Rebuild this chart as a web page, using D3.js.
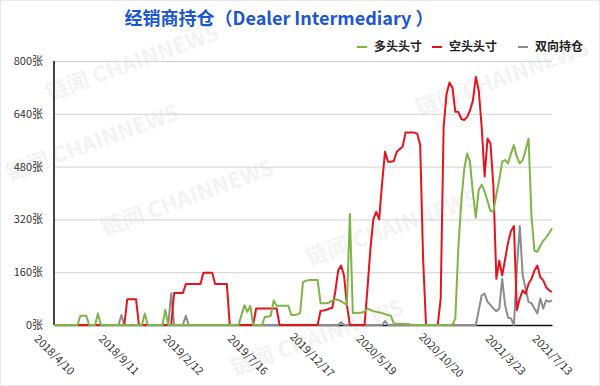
<!DOCTYPE html>
<html>
<head>
<meta charset="utf-8">
<script src="https://cdn.jsdelivr.net/npm/d3@7"></script>
<style>
    body { margin: 0; background: #fff; }
    svg { display: block; }
    text { font-family: "Noto Sans CJK SC", "Noto Sans", sans-serif; }
</style>
</head>
<body>
<div id="chart"></div>
<script>
// weekly values, 2018/4/10 .. 2021/7/13 (171 weeks)
var longPos = [
    0, 0, 0, 0, 0, 0, 0, 0, 0, 28, 28, 28, 0, 0, 0, 35, 0, 0, 0, 0,
    0, 0, 0, 0, 0, 0, 0, 0, 0, 0, 0, 35, 0, 0, 0, 0, 0, 0, 46, 0,
    0, 0, 0, 0, 0, 0, 0, 0, 0, 0, 0, 0, 0, 0, 0, 0, 0, 0, 0, 0,
    0, 0, 0, 0, 30, 60, 40, 58, 0, 0, 0, 0, 25, 25, 28, 75, 58, 58, 58, 58,
    58, 30, 30, 32, 36, 130, 134, 136, 136, 136, 136, 66, 66, 66, 68, 74, 78, 76, 72, 66,
    62, 336, 36, 36, 37, 38, 40, 50, 46, 42, 40, 38, 36, 33, 30, 28, 4, 4, 4, 4,
    3, 3, 0, 0, 0, 0, 0, 0, 0, 0, 0, 0, 0, 0, 0, 0, 0, 20, 230, 370,
    470, 520, 495, 400, 325, 410, 425, 405, 375, 345, 345, 395, 440, 495, 500, 490, 520, 545, 510, 490,
    500, 530, 565, 330, 225, 222, 240, 255, 265, 278, 293
];
var shortPos = [
    0, 0, 0, 0, 0, 0, 0, 0, 0, 0, 0, 0, 0, 0, 0, 0, 0, 0, 0, 0,
    0, 0, 0, 0, 0, 78, 78, 78, 78, 0, 0, 0, 0, 0, 0, 0, 0, 0, 0, 0,
    0, 97, 97, 97, 97, 124, 124, 124, 124, 124, 124, 158, 158, 158, 158, 124, 124, 124, 124, 124,
    0, 0, 0, 0, 0, 0, 0, 0, 0, 50, 50, 50, 50, 50, 50, 50, 50, 0, 0, 0,
    0, 0, 0, 0, 0, 0, 0, 0, 0, 0, 0, 43, 44, 46, 50, 52, 100, 165, 180, 150,
    60, 0, 0, 0, 0, 0, 0, 110, 230, 320, 343, 320, 430, 525, 495, 495, 497, 525, 533, 540,
    583, 583, 583, 583, 580, 545, 200, 0, 0, 0, 0, 0, 80, 600, 700, 735, 720, 646, 646, 625,
    621, 630, 650, 680, 752, 710, 600, 450, 565, 550, 420, 140, 195, 150, 200, 250, 285, 300, 45, 80,
    105, 95, 125, 140, 165, 180, 145, 135, 115, 105, 100
];
var spreadPos = [
    0, 0, 0, 0, 0, 0, 0, 0, 0, 0, 0, 0, 0, 0, 0, 0, 0, 0, 0, 0,
    0, 0, 0, 30, 0, 0, 0, 0, 0, 0, 0, 0, 0, 0, 0, 0, 0, 0, 0, 0,
    96, 0, 0, 0, 0, 28, 0, 0, 0, 0, 0, 0, 0, 0, 0, 0, 0, 0, 0, 0,
    0, 0, 0, 0, 0, 0, 0, 0, 0, 0, 0, 0, 0, 0, 0, 0, 0, 0, 0, 0,
    0, 0, 0, 0, 0, 0, 0, 0, 0, 0, 0, 0, 0, 0, 0, 0, 0, 0, 8, 0,
    0, 0, 0, 0, 0, 0, 0, 0, 0, 0, 0, 0, 0, 12, 0, 0, 0, 0, 0, 0,
    0, 0, 0, 0, 0, 0, 0, 0, 0, 0, 0, 0, 0, 0, 0, 0, 0, 0, 0, 0,
    0, 0, 0, 0, 0, 45, 90, 95, 70, 60, 50, 42, 50, 140, 60, 22, 20, 0, 170, 300,
    150, 110, 70, 66, 50, 35, 80, 50, 75, 70, 75
];

var seriesNames = ["多头头寸", "空头头寸", "双向持仓"];
var seriesColors = ["#7db547", "#e3141e", "#8c8c8c"];
var tickLabels = ["2018/4/10", "2018/9/11", "2019/2/12", "2019/7/16", "2019/12/17",
    "2020/5/19", "2020/10/20", "2021/3/23", "2021/7/13"];
var yTicks = [0, 160, 320, 480, 640, 800];

// category labels: one per week
var dates = [];
var start = new Date(2018, 3, 10);
for (var i = 0; i < longPos.length; i++) {
    var d = new Date(start.getFullYear(), start.getMonth(), start.getDate() + 7 * i);
    dates.push(d.getFullYear() + "/" + (d.getMonth() + 1) + "/" + d.getDate());
}

var svg = d3.select("#chart")
    .append("svg")
    .attr("width", 600)
    .attr("height", 386);

svg.append("rect")
    .attr("x", 0.5).attr("y", 0.5)
    .attr("width", 599).attr("height", 385)
    .attr("fill", "#fff")
    .attr("stroke", "#e8e8e8");

//Watermarks (kept inside the frame)
var marks = [[135, 70], [95, 150], [190, 205], [395, 235], [505, 85], [320, 345]];
svg.append("g")
    .selectAll("text")
    .data(marks)
    .enter()
    .append("text")
    .attr("transform", function (d) { return "translate(" + d[0] + "," + d[1] + ") rotate(-20)"; })
    .attr("text-anchor", "middle")
    .style("font-size", "22px")
    .style("font-weight", "bold")
    .style("fill", "#000")
    .style("opacity", 0.045)
    .text("链闻 CHAINNEWS");

var x = d3.scalePoint().domain(dates).range([54, 552]);
var y = d3.scaleLinear().domain([0, 800]).range([325, 61]);

//Gridlines and y labels
var yAxis = svg.append("g")
    .attr("transform", "translate(54,0)")
    .call(d3.axisLeft(y).tickValues(yTicks).tickSize(-498).tickPadding(11)
        .tickFormat(function (d) { return d + "张"; }));
yAxis.select(".domain").remove();
yAxis.selectAll("line").attr("stroke", "#d2d2d2");
yAxis.selectAll("text").style("font-size", "11px").style("fill", "#333");

//x axis baseline and rotated labels
var xAxis = svg.append("g")
    .attr("transform", "translate(0,325)")
    .call(d3.axisBottom(x).tickValues(tickLabels).tickSize(0));
xAxis.select(".domain").attr("stroke", "#111").attr("stroke-width", 1.5);
xAxis.selectAll("text")
    .attr("y", 0)
    .attr("dy", "0.35em")
    .attr("text-anchor", "middle")
    .attr("transform", "translate(0,30) rotate(45)")
    .style("font-size", "11px")
    .style("fill", "#333");

svg.append("line")
    .attr("x1", 54).attr("x2", 54)
    .attr("y1", 61).attr("y2", 325)
    .attr("stroke", "#444")
    .attr("stroke-width", 2);

//Lines, drawn gray -> red -> green
var line = d3.line()
    .x(function (d, i) { return x(dates[i]); })
    .y(function (d) { return y(d); });
var allSeries = [longPos, shortPos, spreadPos];
[2, 1, 0].forEach(function (k) {
    svg.append("path")
        .datum(allSeries[k])
        .attr("d", line)
        .attr("fill", "none")
        .attr("stroke", seriesColors[k])
        .attr("stroke-width", 2)
        .attr("stroke-linejoin", "round");
});

//Title
svg.append("text")
    .attr("x", 279)
    .attr("y", 25)
    .attr("text-anchor", "middle")
    .style("font-size", "18px")
    .style("font-weight", "bold")
    .style("fill", "#1a55d2")
    .text("经销商持仓（Dealer Intermediary ）");

//Legend
var legendX = [357, 432, 518];
var legend = svg.append("g")
    .selectAll("g")
    .data(seriesNames)
    .enter()
    .append("g")
    .attr("transform", function (d, i) { return "translate(" + legendX[i] + ",47)"; });
legend.append("line")
    .attr("x1", 0).attr("x2", 10)
    .attr("stroke", function (d, i) { return seriesColors[i]; })
    .attr("stroke-width", 2);
legend.append("text")
    .attr("x", 17)
    .attr("dy", "0.35em")
    .style("font-size", "12px")
    .style("font-weight", "bold")
    .style("fill", "#222")
    .text(function (d) { return d; });
</script>
</body>
</html>
